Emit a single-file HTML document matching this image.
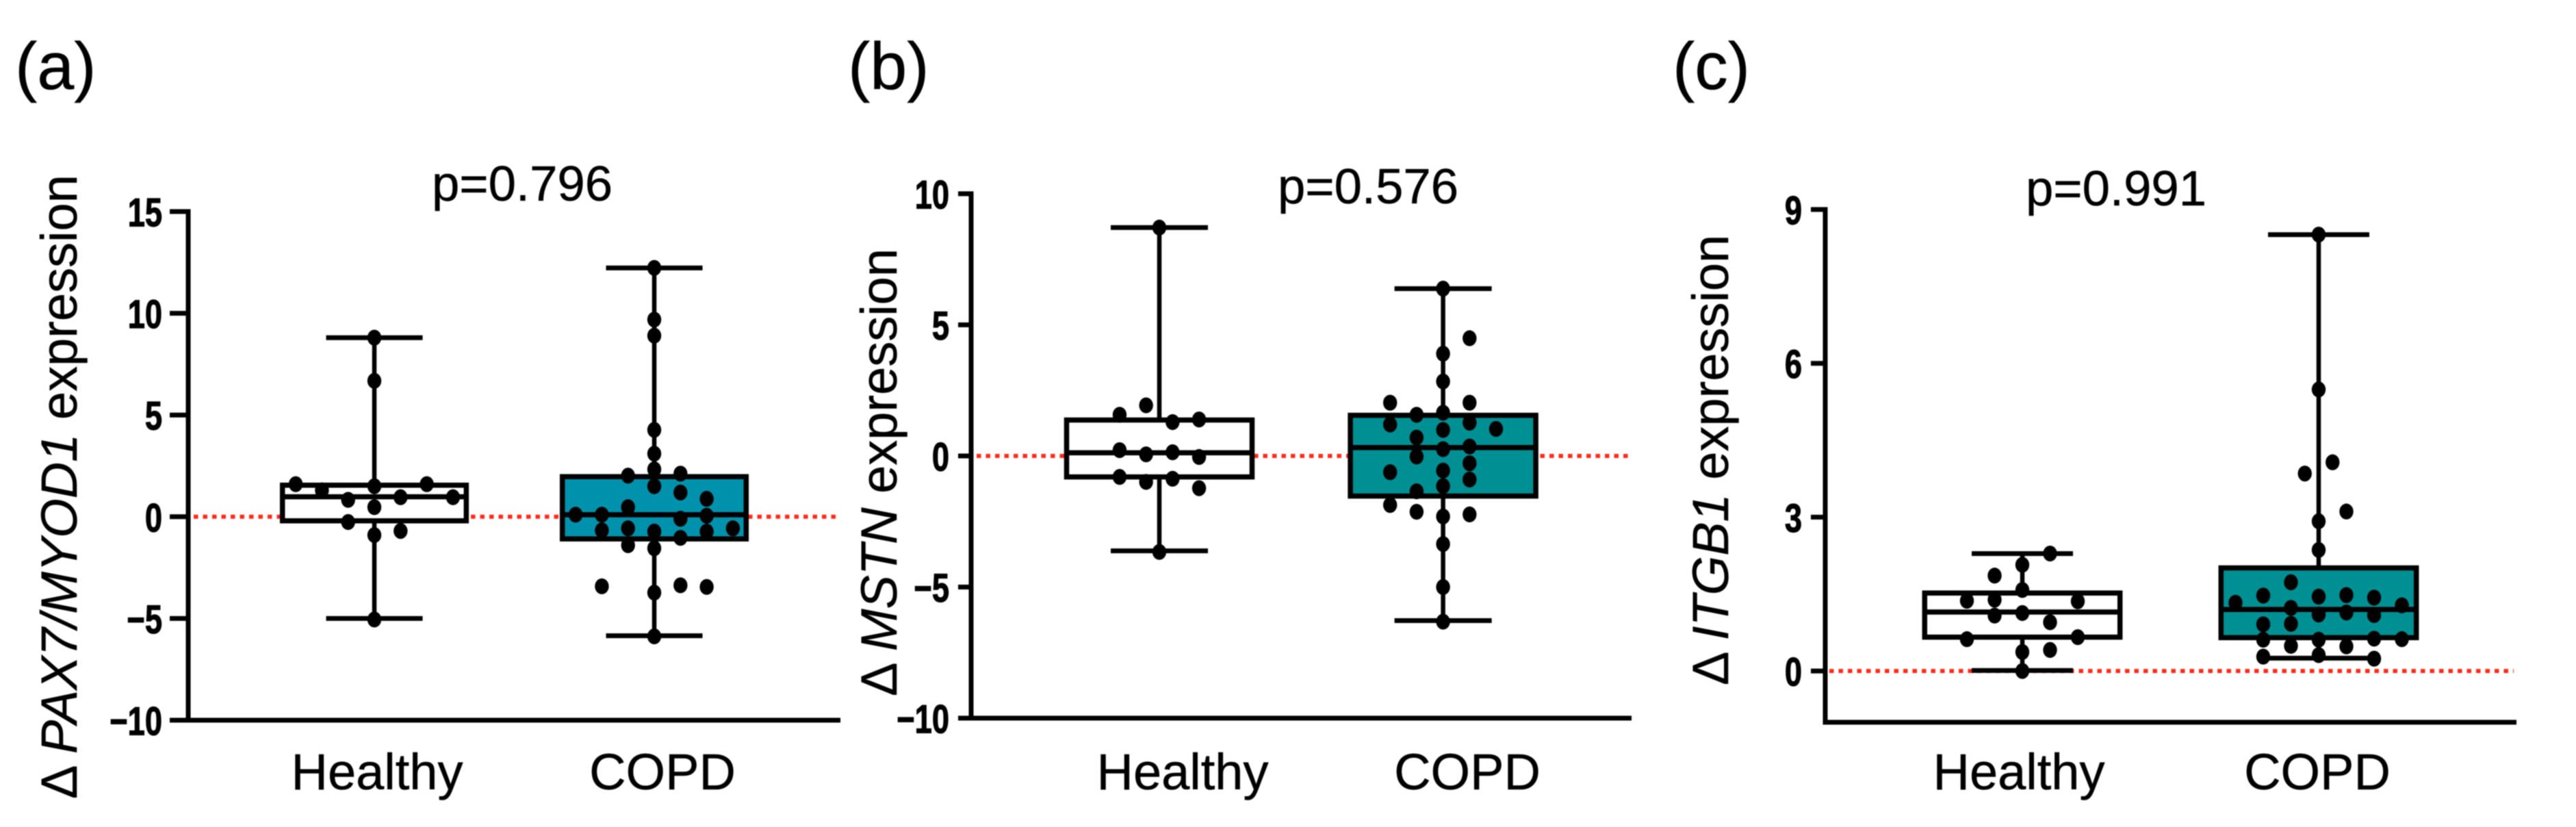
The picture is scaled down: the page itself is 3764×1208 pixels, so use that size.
<!DOCTYPE html>
<html lang="en">
<head>
<meta charset="utf-8">
<title>Delta expression box plots: Healthy vs COPD</title>
<style>
  html, body { margin: 0; padding: 0; background: #fff; }
  body { width: 3764px; height: 1208px; overflow: hidden; }
  svg { display: block; filter: blur(0.7px); }
  text { font-family: "Liberation Sans", "DejaVu Sans", sans-serif; fill: #000; stroke: #000; stroke-width: 0.5px; }
  text.tick { stroke-width: 1.2px; }
</style>
</head>
<body>
<svg id="figure" xmlns="http://www.w3.org/2000/svg" width="3764" height="1208" viewBox="0 0 3764 1208">
  <rect x="0" y="0" width="3764" height="1208" fill="#fff"/>
</svg>
<script>
// ---- Chart data ----
const categories = ['Healthy', 'COPD'];

const aTicks = [15, 10, 5, 0, -5, -10];
const aHealthyValues  = [1.6, 1.3, 0.83, 1.5, 0.96, 1.6, 0.96, 0.47, -0.26, -0.9, -0.7, 6.68, 8.8, -5.05];
const aHealthyColumns = [-3, -2, -1, 0, 1, 2, 3, 0, -1, 0, 1, 0, 0, 0];
const aHealthyBox = [-5.0, -0.2, 0.98, 1.55, 8.8];
const aCopdValues  = [12.23, 9.69, 8.9, 4.27, 3.1, 2.33, 1.5, 2.02, 2.12, 1.19, 0.88, 0.47, 0.1, 0.1, 0.05, -0.1, -0.67, -0.57, -0.73, -0.73, -0.57, -1.04, -1.4, -1.55, -3.42, -3.37, -3.45, -3.73, -5.88];
const aCopdColumns = [0, 0, 0, 0, 0, 0, 0, -1, 1, 1, 2, -1, -3, -2, 2, 1, -2, -1, 0, 2, 3, 1, -1, 0, -2, 1, 2, 0, 0];
const aCopdBox = [-5.85, -1.09, 0.1, 1.97, 12.23];

const bTicks = [10, 5, 0, -5, -10];
const bHealthyValues  = [8.71, 1.57, 1.93, 1.29, 1.39, 0.22, 0.06, 0.14, -0.04, -0.8, -0.99, -0.87, -1.23, -3.66];
const bHealthyColumns = [0, -1.5, -0.5, 0.5, 1.5, -1.5, -0.5, 0.5, 1.5, -1.5, -0.5, 0.5, 1.5, 0];
const bHealthyBox = [-3.62, -0.8, 0.12, 1.37, 8.71];
const bCopdValues  = [6.38, 4.49, 3.9, 2.84, 2.03, 2.03, 1.57, 1.65, 1.2, 1.27, 1.03, 0.99, 0.7, 0.36, 0.26, -0.02, -0.28, -0.62, -0.56, -0.9, -1.15, -1.35, -1.87, -2.13, -2.23, -2.31, -3.36, -5.0, -6.32];
const bCopdColumns = [0, 1, 0, 0, -2, 1, -1, 0, -2, 1, 2, 0, -1, 1, 0, -1, 1, -2, 0, 1, 0, -1, -2, -1, 1, 0, 0, 0, 0];
const bCopdBox = [-6.28, -1.53, 0.32, 1.55, 6.38];

const cTicks = [9, 6, 3, 0];
const cHealthyValues  = [2.29, 2.07, 1.86, 1.58, 1.37, 1.39, 1.36, 1.08, 1.13, 0.95, 0.62, 0.66, 0.37, 0.41, 0];
const cHealthyColumns = [1, 0, -1, 0, -2, -1, 2, -1, 0, 1, -2, 2, 0, 1, 0];
const cHealthyBox = [0.01, 0.66, 1.15, 1.52, 2.29];
const cCopdValues  = [8.51, 5.49, 4.07, 3.85, 3.11, 2.92, 2.36, 1.73, 1.47, 1.45, 1.48, 1.43, 1.33, 1.28, 1.23, 1.1, 1.14, 1.09, 0.91, 0.92, 0.61, 0.61, 0.63, 0.62, 0.49, 0.48, 0.28, 0.31, 0.24];
const cCopdColumns = [0, 0, 0.5, -0.5, 1, 0, 0, -1, -2, 0, 1, 2, -3, 3, -1, 0, 1, 2, -2, -1, -2, 0, 2, 3, -1, 1, -2, 0, 2];
const cCopdBox = [0.25, 0.65, 1.2, 2.01, 8.51];

// ---- Layout (pixels) ----
const panels = [
  { id: 'a', letterX: 22, letterText: '(a)', pText: 'p=0.796', pX: 763, pY: 293,
    axisX: 275, axisEnd: 1228, top: 309, bottom: 1052, domain: [-10, 15], tickStart: 248, tickRight: 237,
    refStart: 283, refEnd: 1224, centers: [547, 956], catX: [551, 968], step: 38.3, boxHalf: 134.3, capHalf: 70.5,
    labelX: 112, labelY: 1167, gene: 'PAX7/MYOD1', fill: '#0092ac', ticks: aTicks,
    values: [aHealthyValues, aCopdValues], columns: [aHealthyColumns, aCopdColumns], boxes: [aHealthyBox, aCopdBox] },
  { id: 'b', letterX: 1239, letterText: '(b)', pText: 'p=0.576', pX: 1999, pY: 297,
    axisX: 1419, axisEnd: 2384, top: 283, bottom: 1049, domain: [-10, 10], tickStart: 1400, tickRight: 1387,
    refStart: 1427, refEnd: 2380, centers: [1694, 2108.6], catX: [1728, 2144], step: 38.7, boxHalf: 135.5, capHalf: 71,
    labelX: 1310, labelY: 1017, gene: 'MSTN', fill: '#008f92', ticks: bTicks,
    values: [bHealthyValues, bCopdValues], columns: [bHealthyColumns, bCopdColumns], boxes: [bHealthyBox, bCopdBox] },
  { id: 'c', letterX: 2444, letterText: '(c)', pText: 'p=0.991', pX: 3092, pY: 300,
    axisX: 2667, axisEnd: 3677, top: 306, bottom: 1055, domain: [-1, 9], tickStart: 2646, tickRight: 2633,
    refStart: 2673, refEnd: 3673, centers: [2955, 3388], catX: [2950, 3386], step: 40.5, boxHalf: 142.7, capHalf: 74,
    labelX: 2525, labelY: 1001, gene: 'ITGB1', fill: '#008f92', ticks: cTicks,
    values: [cHealthyValues, cCopdValues], columns: [cHealthyColumns, cCopdColumns], boxes: [cHealthyBox, cCopdBox] }
];

const NS = 'http://www.w3.org/2000/svg';
const root = document.getElementById('figure');

function make(parent, tag, attrs, content) {
  const el = document.createElementNS(NS, tag);
  for (const key in attrs) el.setAttribute(key, attrs[key]);
  if (content !== undefined) el.textContent = content;
  parent.appendChild(el);
  return el;
}

function yScale(panel) {
  const span = panel.domain[1] - panel.domain[0];
  return function (value) {
    return panel.bottom - (value - panel.domain[0]) / span * (panel.bottom - panel.top);
  };
}

function seg(parent, x1, y1, x2, y2, width, color) {
  return make(parent, 'line', { x1: x1, y1: y1, x2: x2, y2: y2, stroke: color || '#000', 'stroke-width': width });
}

panels.forEach(function (panel) {
  const y = yScale(panel);
  const group = make(root, 'g', {});
  
  

  const letter = make(group, 'text', { x: panel.letterX, y: 130, 'font-size': 97 }, panel.letterText);
  
  

  const pValue = make(group, 'text', { x: panel.pX, y: panel.pY, 'font-size': 72.5, 'text-anchor': 'middle' }, panel.pText);
  
  

  const yTitle = make(group, 'text', { transform: 'translate(' + panel.labelX + ',' + panel.labelY + ') rotate(-90)', 'font-size': 74 });
  
  
  make(yTitle, 'tspan', {}, '\u0394 ');
  make(yTitle, 'tspan', { 'font-style': 'italic' }, panel.gene);
  make(yTitle, 'tspan', {}, ' expression');

  const refLine = seg(group, panel.refStart, y(0), panel.refEnd, y(0), 6, '#ff2a1a');
  refLine.setAttribute('stroke-dasharray', '6.5 7');
  
  

  const yAxis = seg(group, panel.axisX, panel.top - 3.5, panel.axisX, panel.bottom + 3.5, 7);
  
  

  const xAxis = seg(group, panel.axisX - 3.5, panel.bottom, panel.axisEnd, panel.bottom, 7);
  
  

  panel.ticks.forEach(function (tick) {
    const mark = seg(group, panel.tickStart, y(tick), panel.axisX, y(tick), 7);
    
    
    const label = make(group, 'text', {
      class: 'tick',
      transform: 'translate(' + panel.tickRight + ',' + (y(tick) + 21.5) + ') scale(0.78,1)',
      'font-size': 58, 'font-weight': 'bold', 'text-anchor': 'end'
    }, (tick < 0 ? '\u2212' : '') + Math.abs(tick));
    
    
  });

  categories.forEach(function (category, i) {
    const cx = panel.centers[i];
    const stats = panel.boxes[i];
    const vals = panel.values[i];
    const cols = panel.columns[i];

    const catLabel = make(group, 'text', { x: panel.catX[i], y: 1153, 'font-size': 74, 'text-anchor': 'middle' }, category);
    
    

    const whisker = seg(group, cx, y(stats[0]), cx, y(stats[4]), 6.5);
    
    

    const capLow = seg(group, cx - panel.capHalf, y(stats[0]), cx + panel.capHalf, y(stats[0]), 7);
    
    

    const capHigh = seg(group, cx - panel.capHalf, y(stats[4]), cx + panel.capHalf, y(stats[4]), 7);
    
    

    const box = make(group, 'rect', {
      x: cx - panel.boxHalf, y: y(stats[3]), width: panel.boxHalf * 2, height: y(stats[1]) - y(stats[3]),
      fill: i === 0 ? '#fff' : panel.fill, stroke: '#000', 'stroke-width': 7.5
    });
    
    

    const median = seg(group, cx - panel.boxHalf, y(stats[2]), cx + panel.boxHalf, y(stats[2]), 7.5);
    
    

    vals.forEach(function (value, j) {
      const dot = make(group, 'ellipse', { cx: cx + cols[j] * panel.step, cy: y(value), rx: 10.2, ry: 11.6, fill: '#000' });
      
      
    });
  });
});
</script>
</body>
</html>
